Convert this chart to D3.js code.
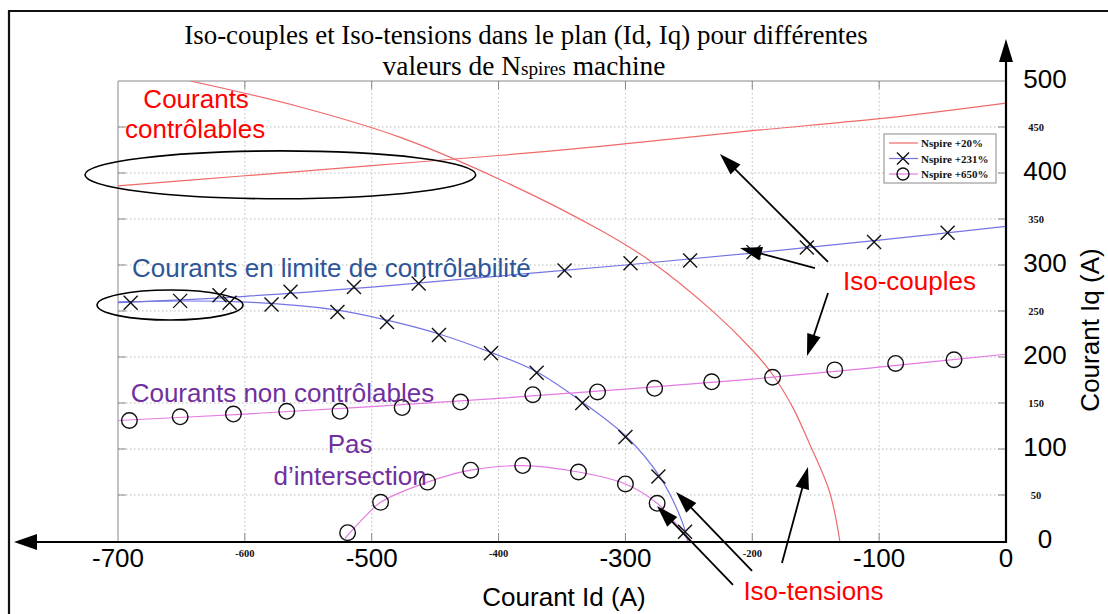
<!DOCTYPE html>
<html><head><meta charset="utf-8">
<script src="https://cdn.jsdelivr.net/npm/d3@7"></script>
<style>body{margin:0;background:#fff}svg{display:block}</style>
</head><body>
<svg id="c" width="1108" height="614"></svg>
<script>
// ---------- DATA ----------
const seriesNames = ["Nspire +20%", "Nspire +231%", "Nspire +650%"];
// Id (A), Iq (A)
const red_isoCouple = [[-700,386],[-600,397],[-500,408],[-400,419],[-320,429],[-200,446],[-100,459],[0,476]];
const red_isoTension = [[-643,500],[-557,472],[-478,439],[-399,393],[-320,338],[-281,305],[-233,252],[-199,206],[-184,181],[-168,145],[-155,106],[-139,53],[-131,0]];
const blue_isoCouple = [[-700,259],[-600,266],[-500,276],[-400,288],[-300,300],[-200,313],[-100,327],[0,342]];
const blue_isoTension = [[-700,260],[-604,260],[-527,251],[-488,240],[-447,225],[-406,205],[-370,184],[-333,150],[-299,113],[-273,70],[-255,20],[-251,0]];
const blue_markers = [[-690,259],[-651,261],[-620,267],[-564,271],[-514,276],[-463,280],[-348,294],[-296,302],[-249,305],[-199,314],[-157,319],[-104,325],[-46,335],
  [-612,259],[-579,257],[-527,249],[-488,238],[-447,224],[-406,204],[-370,183],[-334,150],[-300,113],[-274,70],[-253,10]];
const pink_isoCouple = [[-700,131],[-600,138],[-500,146],[-400,155],[-300,165],[-200,176],[-100,189],[0,203]];
const pink_isoTension = [[-521,3],[-507,24],[-493,42],[-456,64],[-422,77],[-381,82],[-337,75],[-300,62],[-275,41],[-258,15],[-250,0]];
const pink_markers = [[-691,131],[-651,135],[-609,138],[-567,141],[-525,141],[-476,145],[-430,151],[-373,159],[-322,162],[-277,166],[-232,173],[-184,178],[-135,186],[-87,193],[-41,197],
  [-519,9],[-493,42],[-456,64],[-422,77],[-381,82],[-337,75],[-300,62],[-275,41]];
const idTicksBig = [-700,-500,-300,-100,0];
const idTicksSmall = [-600,-400,-200];
const iqTicksBig = [0,100,200,300,400,500];
const iqTicksSmall = [50,150,250,350,450];
const titleLine1 = "Iso-couples et Iso-tensions dans le plan (Id, Iq) pour différentes";
const titleLine2 = ["valeurs de N", "spires", " machine"];
const xLabel = "Courant Id (A)";
const yLabel = "Courant Iq (A)";
// annotations (data coordinates)
const notes = [
  {t:"Courants", at:[-680,471], c:"#ff0000"},
  {t:"contrôlables", at:[-694.5,438], c:"#ff0000"},
  {t:"Courants en limite de contrôlabilité", at:[-689,287], c:"#2e5597"},
  {t:"Courants non contrôlables", at:[-690,151], c:"#7030a0"},
  {t:"Pas", at:[-517,96], c:"#7030a0", mid:true},
  {t:"d’intersection", at:[-517,61], c:"#7030a0", mid:true},
  {t:"Iso-couples", at:[-128.5,273], c:"#ff0000"},
  {t:"Iso-tensions", at:[-207,-64], c:"#ff0000"}
];
const ellipses = [ {c:[-572,398], r:[154,26]}, {c:[-659,256.5], r:[57.5,16.3]} ];
const arrows = [
  [[-140.3,303.3],[-225.5,420.7]],
  [[-150.6,296.7],[-209.7,318.5]],
  [[-140.3,269.6],[-156.9,201.1]],
  [[-176.6,-23.9],[-156.1,80.4]],
  [[-200.2,-32.6],[-260.1,53.3]],
  [[-215.2,-47.8],[-275.1,38.0]]
];

// ---------- CHART ----------
const svg = d3.select("#c");
const x = d3.scaleLinear().domain([-700,0]).range([118,1006]);
const y = d3.scaleLinear().domain([0,500]).range([541,81]);
const SANS = "'Liberation Sans', Arial, Helvetica, sans-serif";
const SERIF = "'Liberation Serif', 'Times New Roman', serif";
const RED = "#f06a6a", BLUE = "#7474e4", PINK = "#e47ae4";

svg.append("rect").attr("width",1108).attr("height",614).attr("fill","#fff");

// outer frame
svg.append("path").attr("d","M9,614 V11 H1108").attr("fill","none").attr("stroke","#111").attr("stroke-width",2.2);

// grid
const g = svg.append("g");
g.selectAll(".gx").data(d3.range(-600,0,100)).join("line")
  .attr("x1",d=>x(d)).attr("x2",d=>x(d)).attr("y1",y(500)).attr("y2",y(0))
  .attr("stroke","#bbb").attr("stroke-width",1).attr("stroke-dasharray","1.5,2.5");
g.selectAll(".gy").data(d3.range(50,500,50)).join("line")
  .attr("x1",x(-700)).attr("x2",x(0)).attr("y1",d=>y(d)).attr("y2",d=>y(d))
  .attr("stroke","#bbb").attr("stroke-width",1).attr("stroke-dasharray","1.5,2.5");
// inner axes box and ticks
g.append("path").attr("d",`M${x(-700)},${y(0)} V${y(500)} H${x(0)}`).attr("fill","none").attr("stroke","#888").attr("stroke-width",1);
const tk = 8;
g.selectAll(".tl").data(d3.range(50,500,50)).join("line").attr("x1",x(-700)).attr("x2",x(-700)+tk).attr("y1",d=>y(d)).attr("y2",d=>y(d)).attr("stroke","#888");
g.selectAll(".tr").data(d3.range(50,500,50)).join("line").attr("x1",x(0)).attr("x2",x(0)-tk).attr("y1",d=>y(d)).attr("y2",d=>y(d)).attr("stroke","#888");
g.selectAll(".tt").data(d3.range(-600,0,100)).join("line").attr("x1",d=>x(d)).attr("x2",d=>x(d)).attr("y1",y(500)).attr("y2",y(500)+tk).attr("stroke","#888");
g.selectAll(".tb").data(d3.range(-600,0,100)).join("line").attr("x1",d=>x(d)).attr("x2",d=>x(d)).attr("y1",y(0)).attr("y2",y(0)-tk).attr("stroke","#888");

// clip
svg.append("clipPath").attr("id","pa").append("rect").attr("x",x(-700)).attr("y",y(500)).attr("width",x(0)-x(-700)).attr("height",y(0)-y(500));
const line = d3.line().x(d=>x(d[0])).y(d=>y(d[1])).curve(d3.curveCatmullRom.alpha(0.5));
const pg = svg.append("g").attr("clip-path","url(#pa)");
[[red_isoCouple,RED],[red_isoTension,RED],[blue_isoCouple,BLUE],[blue_isoTension,BLUE],[pink_isoCouple,PINK],[pink_isoTension,PINK]].forEach(([d,c])=>{
  pg.append("path").datum(d).attr("d",line).attr("fill","none").attr("stroke",c).attr("stroke-width",1.2);
});
// markers
const xs = 7;
svg.append("g").selectAll("path").data(blue_markers).join("path")
  .attr("d",d=>{const px=x(d[0]),py=y(d[1]);return `M${px-xs},${py-xs}L${px+xs},${py+xs}M${px-xs},${py+xs}L${px+xs},${py-xs}`;})
  .attr("stroke","#111").attr("stroke-width",1.4).attr("fill","none");
svg.append("g").selectAll("circle").data(pink_markers).join("circle")
  .attr("cx",d=>x(d[0])).attr("cy",d=>y(d[1])).attr("r",7.8)
  .attr("stroke","#111").attr("stroke-width",1.4).attr("fill","none");

// legend
const lg = svg.append("g");
lg.append("rect").attr("x",884).attr("y",134).attr("width",112).attr("height",49).attr("fill","#fff").attr("stroke","#888").attr("stroke-width",1);
const lcols=[RED,BLUE,PINK];
seriesNames.forEach((n,i)=>{
  const yy=143+i*15.5;
  lg.append("line").attr("x1",889).attr("x2",918).attr("y1",yy).attr("y2",yy).attr("stroke",lcols[i]).attr("stroke-width",1.2);
  if(i===1) lg.append("path").attr("d",`M${903-6},${yy-6}L${903+6},${yy+6}M${903-6},${yy+6}L${903+6},${yy-6}`).attr("stroke","#111").attr("stroke-width",1.4);
  if(i===2) lg.append("circle").attr("cx",903).attr("cy",yy).attr("r",6).attr("fill","none").attr("stroke","#111").attr("stroke-width",1.4);
  lg.append("text").attr("x",921).attr("y",yy+4).text(n).attr("font-family",SERIF).attr("font-weight","bold").attr("font-size",11).attr("fill","#111");
});

// small MATLAB tick labels
svg.append("g").selectAll("text").data(idTicksSmall).join("text")
  .attr("x",d=>x(d)).attr("y",557).attr("text-anchor","middle").text(d=>d)
  .attr("font-family",SERIF).attr("font-weight","bold").attr("font-size",10.5).attr("fill","#111");
svg.append("g").selectAll("text").data(iqTicksSmall).join("text")
  .attr("x",1036).attr("y",d=>y(d)+4).attr("text-anchor","middle").text(d=>d)
  .attr("font-family",SERIF).attr("font-weight","bold").attr("font-size",10.5).attr("fill","#111");

// big axes (arrows)
const ax = svg.append("g");
ax.append("line").attr("x1",x(0)).attr("x2",30).attr("y1",y(0)+1).attr("y2",y(0)+1).attr("stroke","#000").attr("stroke-width",2.2);
ax.append("path").attr("d",`M14,${y(0)+1} L37,${y(0)+1-8} L37,${y(0)+1+8}Z`).attr("fill","#000");
ax.append("line").attr("x1",x(0)).attr("x2",x(0)).attr("y1",y(0)+2).attr("y2",58).attr("stroke","#000").attr("stroke-width",2.2);
ax.append("path").attr("d",`M${x(0)},39 L${x(0)-7},62 L${x(0)+7},62Z`).attr("fill","#000");

svg.append("g").selectAll("text").data(idTicksBig).join("text")
  .attr("x",d=>x(d)).attr("y",567).attr("text-anchor","middle").text(d=>d)
  .attr("font-family",SANS).attr("font-size",26).attr("fill","#000");
svg.append("g").selectAll("text").data(iqTicksBig).join("text")
  .attr("x",1045).attr("y",d=>y(d)+7).attr("text-anchor","middle").text(d=>d)
  .attr("font-family",SANS).attr("font-size",26).attr("fill","#000");

svg.append("text").attr("x",564).attr("y",606).attr("text-anchor","middle").text(xLabel)
  .attr("font-family",SANS).attr("font-size",26).attr("fill","#000");
svg.append("text").attr("transform","translate(1099,330) rotate(-90)").attr("text-anchor","middle").text(yLabel)
  .attr("font-family",SANS).attr("font-size",26).attr("fill","#000");

// title
function fitText(sel, target, cx, by){
  const w = sel.node().getComputedTextLength();
  sel.attr("transform",`translate(${cx},${by}) scale(${target/w},1)`);
}
const t1 = svg.append("text").attr("text-anchor","middle").attr("font-family",SERIF).attr("font-size",27).attr("fill","#000").text(titleLine1);
fitText(t1, 684, 526, 44);
const t2 = svg.append("text").attr("text-anchor","middle").attr("font-family",SERIF).attr("font-size",27).attr("fill","#000");
t2.append("tspan").text(titleLine2[0]);
t2.append("tspan").attr("font-size",19).text(titleLine2[1]);
t2.append("tspan").text(titleLine2[2]);
fitText(t2, 283, 524, 75);

// annotations
svg.append("g").selectAll("ellipse").data(ellipses).join("ellipse")
  .attr("cx",d=>x(d.c[0])).attr("cy",d=>y(d.c[1]))
  .attr("rx",d=>x(d.c[0]+d.r[0])-x(d.c[0])).attr("ry",d=>y(d.c[1])-y(d.c[1]+d.r[1]))
  .attr("fill","none").attr("stroke","#000").attr("stroke-width",1.6);
svg.append("g").selectAll("text").data(notes).join("text")
  .attr("x",d=>x(d.at[0])).attr("y",d=>y(d.at[1])).attr("text-anchor",d=>d.mid?"middle":"start")
  .text(d=>d.t).attr("font-family",SANS).attr("font-size",26).attr("fill",d=>d.c);
const ag = svg.append("g");
arrows.forEach(([a,b])=>{
  const x1=x(a[0]),y1=y(a[1]),x2=x(b[0]),y2=y(b[1]);
  const L=Math.hypot(x2-x1,y2-y1), ux=(x2-x1)/L, uy=(y2-y1)/L, hl=22, hw=7;
  const bx=x2-ux*hl, by=y2-uy*hl;
  ag.append("line").attr("x1",x1).attr("y1",y1).attr("x2",bx+ux*2).attr("y2",by+uy*2).attr("stroke","#000").attr("stroke-width",1.8);
  ag.append("path").attr("d",`M${x2},${y2}L${bx-uy*hw},${by+ux*hw}L${bx+uy*hw},${by-ux*hw}Z`).attr("fill","#000");
});
</script>
</body></html>
